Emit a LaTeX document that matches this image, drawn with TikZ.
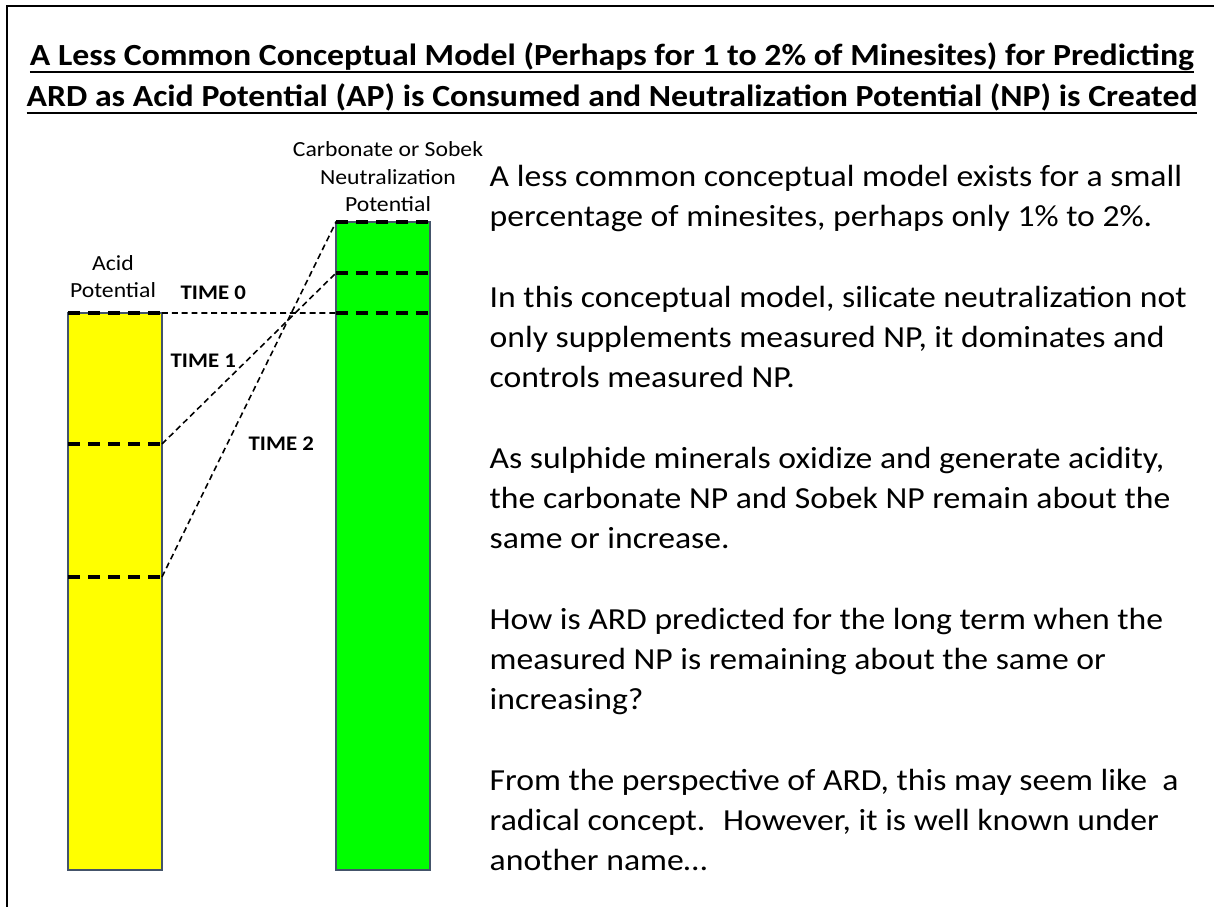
\documentclass[tikz,border=0pt]{standalone}
\usepackage{fontspec}
\setmainfont{Carlito}[FakeStretch=1.1]
\usepackage{xcolor}
\usetikzlibrary{positioning}

\definecolor{apyellow}{HTML}{FFFF00}
\definecolor{npgreen}{HTML}{00FF00}
\definecolor{barline}{HTML}{44546A}

% heavier underline for the heading
\newcommand{\headul}[1]{\setbox0\hbox{#1}\rlap{\rule[-2.1pt]{\wd0}{0.6pt}}\box0}

\begin{document}
\begin{tikzpicture}[
			bar/.style={rectangle, draw=barline, line width=0.3pt, minimum width=0.94cm, inner sep=0pt, outer sep=0pt, anchor=south west},
			levelline/.style={line width=1pt, dash pattern=on 3.4pt off 2.3pt},
			timeline/.style={line width=0.45pt, dash pattern=on 1.7pt off 1.1pt},
			barlabel/.style={font=\fontsize{6.13}{7.9}\selectfont, align=center, inner sep=0pt, anchor=base},
			timelabel/.style={font=\fontsize{5.9}{7}\selectfont\bfseries, inner sep=0pt, anchor=base west},
			bodytext/.style={font=\fontsize{8.71}{11.46}\selectfont, align=left, inner sep=0pt, anchor=base west},
			]
			\useasboundingbox (0,0) rectangle (12.14,9.07);
			
			% ---- slide frame and title ----
			\draw[line width=0.5pt] (0.07,0) -- (0.07,9.01) -- (12.14,9.01);
			\node[font=\fontsize{8.74}{11.7}\selectfont\bfseries, align=center, inner sep=0pt, anchor=base] (title) at (6.12,8.0)
				{\headul{A Less Common Conceptual Model (Perhaps for 1 to 2\% of Minesites) for Predicting}\\
				 \headul{ARD as Acid Potential (AP) is Consumed and Neutralization Potential (NP) is Created}};
			
			% ---- the two bars ----
			\node[bar, fill=apyellow, minimum height=5.57cm] (ap) at (0.68,0.37) {};
			\node[bar, fill=npgreen, minimum height=6.48cm] (np) at (3.36,0.37) {};
			\node[barlabel] (aplabel) at (1.13,6.09) {Acid\\Potential};
			\node[barlabel] (nplabel) at (3.88,6.95) {Carbonate or Sobek\\Neutralization\\Potential};
			
			% ---- levels at each time ----
			\coordinate (ap0w) at (ap.north west);
			\coordinate (ap0e) at (ap.north east);
			\coordinate (ap1w) at ([yshift=-1.31cm]ap.north west);
			\coordinate (ap1e) at ([yshift=-1.31cm]ap.north east);
			\coordinate (ap2w) at ([yshift=-2.64cm]ap.north west);
			\coordinate (ap2e) at ([yshift=-2.64cm]ap.north east);
			\coordinate (np2w) at (np.north west);
			\coordinate (np2e) at (np.north east);
			\coordinate (np1w) at ([yshift=-0.51cm]np.north west);
			\coordinate (np1e) at ([yshift=-0.51cm]np.north east);
			\coordinate (np0w) at ([yshift=-0.91cm]np.north west);
			\coordinate (np0e) at ([yshift=-0.91cm]np.north east);
			
			\draw[timeline] (ap0e) -- (np0w);
			\draw[timeline] (ap1e) -- (np1w);
			\draw[timeline] (ap2e) -- (np2w);
			\foreach \lvl in {0,1,2} {
				\draw[levelline] (ap\lvl w) -- (ap\lvl e);
				\draw[levelline] (np\lvl w) -- (np\lvl e);
			}
			
			\node[timelabel] (t0) at (1.80,6.07) {TIME 0};
			\node[timelabel] (t1) at (1.70,5.39) {TIME 1};
			\node[timelabel] (t2) at (2.48,4.56) {TIME 2};
			
			% ---- explanation ----
			\node[bodytext] (body) at (4.89,0.36) {%
				A less common conceptual model exists for a small\\
				percentage of minesites, perhaps only 1\% to 2\%.\\[11.46pt]
				In this conceptual model, silicate neutralization not\\
				only supplements measured NP, it dominates and\\
				controls measured NP.\\[11.46pt]
				As sulphide minerals oxidize and generate acidity,\\
				the carbonate NP and Sobek NP remain about the\\
				same or increase.\\[11.46pt]
				How is ARD predicted for the long term when the\\
				measured NP is remaining about the same or\\
				increasing?\\[11.46pt]
				From the perspective of ARD, this may seem like~ a\\
				radical concept.~ However, it is well known under\\
				another name…};
			
		\end{tikzpicture}
\end{document}
